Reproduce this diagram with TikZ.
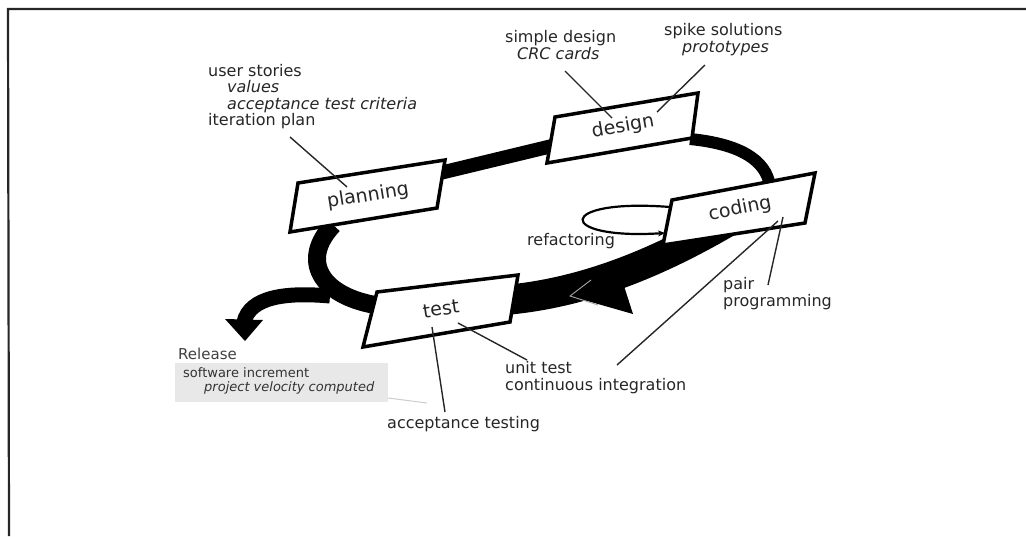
\documentclass[tikz,border=0pt]{standalone}
\usepackage{fontspec}
\setmainfont{DejaVu Sans}
\usetikzlibrary{arrows.meta}
\begin{document}
\begin{tikzpicture}[x=1pt,y=-1pt,
  band/.style={line width=#1,black},
  card/.style={draw=black,fill=white,line width=3.5pt,line join=miter},
  cardtext/.style={font=\fontsize{19}{21}\selectfont,text=black!85,inner sep=0pt},
  lab/.style={font=\fontsize{16}{17}\selectfont,text=black!85,anchor=base west,inner sep=0pt},
  labit/.style={lab,font=\fontsize{16}{17}\selectfont\itshape},
  small/.style={font=\fontsize{13}{15}\selectfont,text=black!80,anchor=base west,inner sep=0pt},
  smallit/.style={small,font=\fontsize{13}{15}\selectfont\itshape},
  leader/.style={line width=1.4pt,black!85},
  frame/.style={line width=2.2pt,black!85}]
\useasboundingbox (0,0) rectangle (1026,536);
% page frame
\coordinate (f1) at (8,9);
\coordinate (f2) at (1026,9);
\coordinate (f3) at (9,536);
\draw[frame] (f2) -- (f1) -- (f3);

% ---- card corners
\coordinate (p1) at (298,183); \coordinate (p2) at (445,160);
\coordinate (p3) at (437,208); \coordinate (p4) at (290,232);
\coordinate (d1) at (555,117); \coordinate (d2) at (698,93);
\coordinate (d3) at (692,138); \coordinate (d4) at (547,163);
\coordinate (c1) at (672,200); \coordinate (c2) at (815,173);
\coordinate (c3) at (805,223); \coordinate (c4) at (663,245);
\coordinate (t1) at (377,292); \coordinate (t2) at (518,275);
\coordinate (t3) at (510,322); \coordinate (t4) at (363,347);

% ---- thick process bands
\coordinate (b1) at (440,173); \coordinate (b2) at (552,146);
\draw[band=14pt] (b1) -- (b2);
\coordinate (b3) at (690,139); \coordinate (b4) at (770,186);
\draw[band=12pt] (b3) .. controls (740,144) and (766,160) .. (b4);
\coordinate (b5) at (734,218); \coordinate (b6) at (505,300);
\draw[band=30pt] (b5) .. controls (660,262) and (585,293) .. (b6);
\coordinate (ah1) at (570,296); \coordinate (ah2) at (616,261); \coordinate (ah3) at (633,314);
\fill[black] (ah1) -- (ah2) -- (ah3) -- cycle;
\coordinate (g1) at (591,280); \coordinate (g2) at (598,305);
\draw[gray!70,line width=0.9pt] (g1) -- (ah1) -- (g2);
\coordinate (b7) at (375,305); \coordinate (b8) at (333,225);
\draw[band=18pt] (b7) .. controls (320,295) and (300,260) .. (b8);
\coordinate (r1) at (330,296); \coordinate (r2) at (244,322);
\draw[band=15pt] (r1) .. controls (285,292) and (250,297) .. (r2);
\coordinate (ra1) at (225,319); \coordinate (ra2) at (263,320); \coordinate (ra3) at (245,341);
\fill[black] (ra1) -- (ra2) -- (ra3) -- cycle;

% ---- cards
\draw[card] (p1) -- (p2) -- (p3) -- (p4) -- cycle;
\draw[card] (d1) -- (d2) -- (d3) -- (d4) -- cycle;
\draw[card] (c1) -- (c2) -- (c3) -- (c4) -- cycle;
\draw[card] (t1) -- (t2) -- (t3) -- (t4) -- cycle;
\node[cardtext,rotate=9] (planning) at (368,196) {planning};
\node[cardtext,rotate=10] (design) at (623,127) {design};
\node[cardtext,rotate=11] (coding) at (740,209) {coding};
\node[cardtext,rotate=8] (test) at (441,309) {test};

% ---- refactoring loop
\coordinate (lo1) at (670,207); \coordinate (lo2) at (665,233);
\draw[line width=2.2pt,black,-{Stealth[length=7pt,width=6pt]}] (lo1) .. controls (555,198) and (555,240) .. (lo2);
\node[lab] (refactoring) at (527,245) {refactoring};

% ---- planning labels
\node[lab] (us) at (208,76) {user stories};
\node[labit] (val) at (227,92) {values};
\node[labit] (atc) at (227,109) {acceptance test criteria};
\node[lab] (ip) at (208,125) {iteration plan};
\coordinate (lp1) at (290,137); \coordinate (lp2) at (347,187);
\draw[leader] (lp1) -- (lp2);

% ---- design labels
\node[lab] (sd) at (505,42) {simple design};
\node[labit] (crc) at (517,59) {CRC cards};
\coordinate (ld1) at (565,71); \coordinate (ld2) at (612,118);
\draw[leader] (ld1) -- (ld2);
\node[lab] (spike) at (664,35) {spike solutions};
\node[labit] (proto) at (682,52) {prototypes};
\coordinate (ls1) at (705,65); \coordinate (ls2) at (657,112);
\draw[leader] (ls1) -- (ls2);

% ---- coding labels
\node[lab] (pair) at (723,289) {pair};
\node[lab] (prog) at (723,306) {programming};
\coordinate (lc1) at (783,217); \coordinate (lc2) at (768,285);
\draw[leader] (lc1) -- (lc2);
\coordinate (lc3) at (778,221); \coordinate (lc4) at (617,365);
\draw[leader] (lc3) -- (lc4);

% ---- test labels
\node[lab] (ut) at (505,373) {unit test};
\node[lab] (ci) at (505,390) {continuous integration};
\coordinate (lt1) at (458,323); \coordinate (lt2) at (527,360);
\draw[leader] (lt1) -- (lt2);
\node[lab] (at) at (387,428) {acceptance testing};
\coordinate (lt3) at (432,327); \coordinate (lt4) at (445,412);
\draw[leader] (lt3) -- (lt4);

% ---- release
\node[lab,font=\fontsize{15}{17}\selectfont,text=black!75] (release) at (178,359) {Release};
\node[fill=black!9,minimum width=213pt,minimum height=39pt,inner sep=0pt,anchor=north west] (relbox) at (175,363) {};
\node[small] (si) at (183,377) {software increment};
\node[smallit] (pv) at (204,391) {project velocity computed};
\coordinate (rp1) at (388,398); \coordinate (rp2) at (427,403);
\draw[black!20,line width=1pt] (rp1) -- (rp2);
\end{tikzpicture}
\end{document}
